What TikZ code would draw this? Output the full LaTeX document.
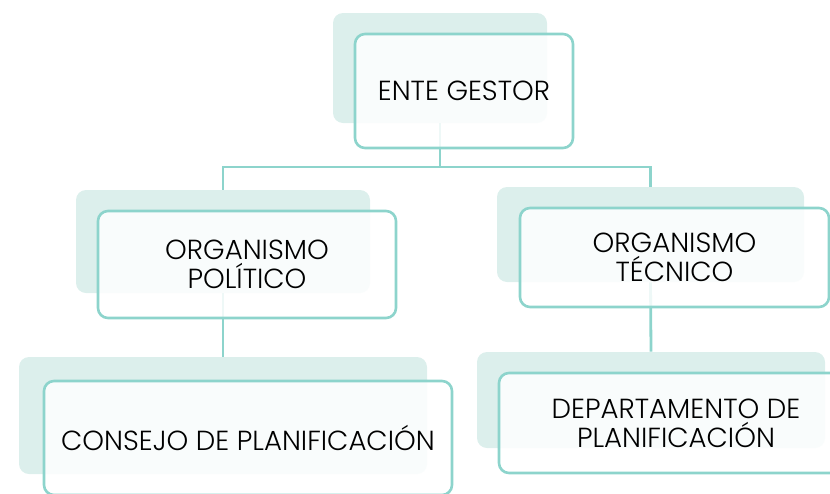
\documentclass[tikz,border=0pt]{standalone}
\usepackage{fontspec}
\setmainfont{Poppins Light}
\usetikzlibrary{positioning}
\definecolor{tealline}{RGB}{141,212,204}
\definecolor{tealshade}{RGB}{220,239,236}
\tikzset{
  shadebox/.style={rectangle,rounded corners=5pt,fill=tealshade,inner sep=0pt},
  frontbox/.style={rectangle,rounded corners=5pt,draw=tealline,line width=1.3pt,
    fill=white,fill opacity=0.85,text opacity=1,inner sep=0pt,align=center,
    font=\fontsize{13.8}{14.5}\selectfont},
  link/.style={draw=tealline,line width=1.4pt},
}
\begin{document}
\begin{tikzpicture}[x=0.5pt,y=-0.5pt]
\useasboundingbox (0,0) rectangle (830,493);
\clip (0,0) rectangle (830,493);
% shaded backs
\node[shadebox,minimum width=107pt,minimum height=55pt] (gestorsh) at (440,68) {};
\node[shadebox,minimum width=147pt,minimum height=51.5pt] (polsh) at (223,241.5) {};
\node[shadebox,minimum width=153.5pt,minimum height=47.5pt] (tecsh) at (650.5,234.5) {};
\node[shadebox,minimum width=204pt,minimum height=58.5pt] (consejosh) at (223,415.5) {};
\node[shadebox,minimum width=174pt,minimum height=48pt] (deptsh) at (651,400) {};
% connectors
\coordinate (bus) at (440,167);
\draw[link] (gestorsh.south) -- (bus) -| (polsh.north);
\draw[link] (bus) -| (tecsh.north);
\draw[link] (polsh.south) -- (consejosh.north);
\draw[link] (tecsh.south) -- (deptsh.north);
% front boxes
\node[frontbox,minimum width=109pt,minimum height=57pt] (gestor) at (464,91) {ENTE GESTOR};
\node[frontbox,minimum width=149pt,minimum height=53.5pt] (pol) at (247,264.5) {ORGANISMO\\POLÍTICO};
\node[frontbox,minimum width=154.5pt,minimum height=49.5pt] (tec) at (674.5,257.5) {ORGANISMO\\TÉCNICO};
\node[frontbox,minimum width=204pt,minimum height=57pt] (consejo) at (248,438) {CONSEJO DE PLANIFICACIÓN};
\node[frontbox,minimum width=177pt,minimum height=50pt] (dept) at (676,423) {DEPARTAMENTO DE\\PLANIFICACIÓN};
\end{tikzpicture}
\end{document}
